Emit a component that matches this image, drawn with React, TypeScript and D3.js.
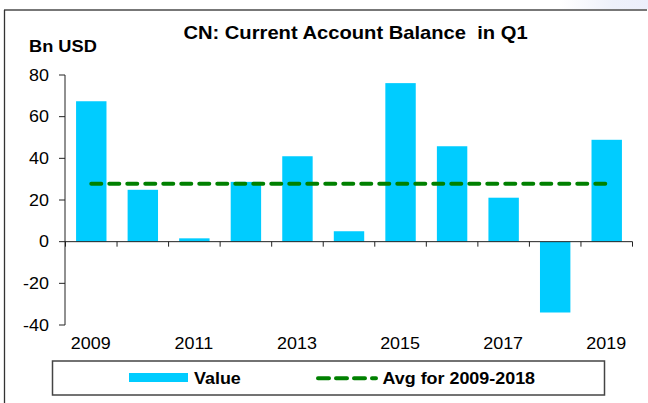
import React from "react";
import * as d3 from "d3";

const title = "CN: Current Account Balance  in Q1";
const unitLabel = "Bn USD";
const years = [2009, 2010, 2011, 2012, 2013, 2014, 2015, 2016, 2017, 2018, 2019];
const values = [67.4, 24.9, 1.6, 28.7, 41.0, 5.0, 76.1, 45.8, 21.1, -34.0, 48.9];
const avgYears = [2009, 2018];
const yTicks = [-40, -20, 0, 20, 40, 60, 80];
const xLabelYears = [2009, 2011, 2013, 2015, 2017, 2019];
const seriesNames = ["Value", "Avg for 2009-2018"];

const W = 648;
const H = 403;
const FONT = "'Liberation Sans', Arial, Helvetica, sans-serif";
const SX = 1.12;
const BAR = "#00CCFF";
const GREEN = "#008000";
const AXIS = "#222";

function T(props: {
  x: number;
  y: number;
  size: number;
  anchor?: string;
  bold?: boolean;
  sx?: number;
  children: React.ReactNode;
}) {
  const { x, y, size, anchor = "start", bold = false, sx = SX, children } = props;
  return (
    <text
      transform={`translate(${x},${y}) scale(${sx},1)`}
      textAnchor={anchor}
      fontFamily={FONT}
      fontSize={size}
      fontWeight={bold ? "bold" : "normal"}
      fill="#000"
      style={{ whiteSpace: "pre" }}
    >
      {children}
    </text>
  );
}

export default function App() {
  const x = d3
    .scaleBand<number>()
    .domain(years)
    .range([65.5, 632.5])
    .padding(0);
  const bw = x.bandwidth();
  const barW = bw * 0.59;
  const y = d3.scaleLinear().domain([-40, 80]).range([325, 75]);
  const y0 = y(0);

  const avgVals = years
    .map((yr, i) => ({ yr, v: values[i] }))
    .filter((d) => d.yr >= avgYears[0] && d.yr <= avgYears[1])
    .map((d) => d.v);
  const avg = d3.mean(avgVals) as number;

  const center = (yr: number) => (x(yr) as number) + bw / 2;
  const avgLine = d3
    .line<number>()
    .x((yr) => center(yr))
    .y(() => y(avg));

  const xTickPositions = [...years.map((yr) => x(yr) as number), 632.5];

  return (
    <svg
      width={W}
      height={H}
      style={{ position: "fixed", left: 0, top: 0, background: "#fff" }}
    >
      <defs>
        <linearGradient id="corner" x1="0" x2="1" y1="0" y2="0">
          <stop offset="0" stopColor="#ffffff" />
          <stop offset="0.6" stopColor="#eef1fa" />
          <stop offset="1" stopColor="#eceffb" />
        </linearGradient>
      </defs>
      <rect x={0} y={0} width={W} height={H} fill="#fff" />
      <rect x={560} y={0} width={88} height={9} fill="url(#corner)" />
      {/* frame */}
      <line x1={4} x2={647} y1={10} y2={10} stroke="#777" strokeWidth={2} />
      <line x1={4.5} x2={4.5} y1={10} y2={H} stroke="#333" strokeWidth={1.3} />

      {/* title */}
      <T x={355.5} y={39} size={18} anchor="middle" bold sx={1.12}>
        {title}
      </T>
      <T x={29} y={52} size={16} bold sx={1.14}>
        {unitLabel}
      </T>

      {/* bars */}
      {years.map((yr, i) => {
        const v = values[i];
        const top = Math.min(y(v), y0);
        const h = Math.abs(y(v) - y0);
        return (
          <rect
            key={yr}
            x={(x(yr) as number) + (bw - barW) / 2}
            y={top}
            width={barW}
            height={h}
            fill={BAR}
          />
        );
      })}

      {/* y axis */}
      <line x1={65} x2={65} y1={y(80)} y2={y(-40)} stroke={AXIS} strokeWidth={1} />
      {yTicks.map((t) => (
        <g key={t}>
          <line x1={59} x2={65} y1={y(t)} y2={y(t)} stroke={AXIS} strokeWidth={1} />
          <T x={49} y={y(t) + 5.8} size={16} anchor="end">
            {t}
          </T>
        </g>
      ))}

      {/* x axis */}
      <line x1={65} x2={632.5} y1={y0} y2={y0} stroke={AXIS} strokeWidth={1} />
      {xTickPositions.map((px, i) => (
        <line key={i} x1={px} x2={px} y1={y0} y2={y0 + 5} stroke={AXIS} strokeWidth={1} />
      ))}
      {xLabelYears.map((yr) => (
        <T key={yr} x={center(yr) - 0.5} y={349} size={16} anchor="middle">
          {yr}
        </T>
      ))}

      {/* average line */}
      <path
        d={avgLine([years[0], years[years.length - 1]]) as string}
        fill="none"
        stroke={GREEN}
        strokeWidth={4}
        strokeDasharray="10 8"
        strokeLinecap="round"
      />

      {/* legend */}
      <rect x={52.5} y={361} width={552} height={34} fill="#fff" stroke="#444" strokeWidth={1.5} />
      <rect x={129} y={373} width={59} height={9} fill={BAR} />
      <T x={194} y={384} size={16} bold>
        {seriesNames[0]}
      </T>
      <line
        x1={318}
        x2={376}
        y1={378.3}
        y2={378.3}
        stroke={GREEN}
        strokeWidth={4}
        strokeDasharray="11 7"
        strokeLinecap="round"
      />
      <T x={382.5} y={383.5} size={16} bold>
        {seriesNames[1]}
      </T>
    </svg>
  );
}
